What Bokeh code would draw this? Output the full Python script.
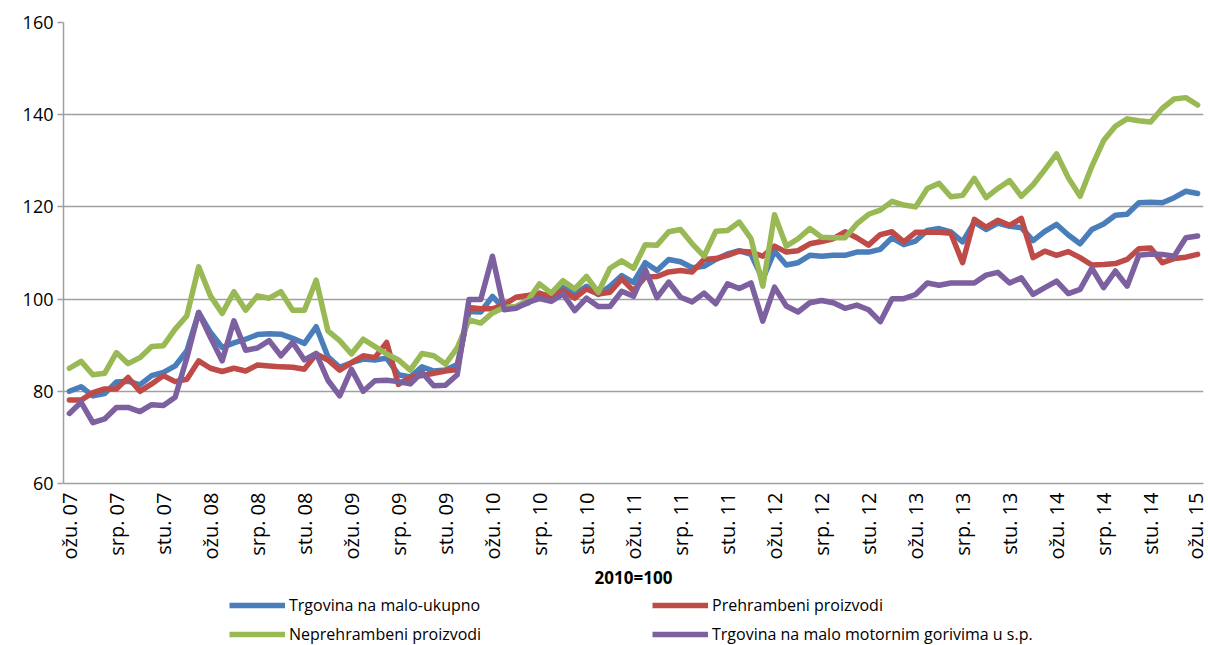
import math
from bokeh.plotting import figure
from bokeh.layouts import column
from bokeh.models import Range1d, FixedTicker, Legend, LegendItem
from bokeh.embed import file_html
from bokeh.resources import INLINE

# Monthly index, March 2007 .. March 2015 (97 months), 2010 = 100
ukupno = [80.0, 81.0, 79.0, 79.5, 82.0, 82.2, 81.4, 83.4, 84.1, 85.5, 88.8, 97.1,
          92.8, 89.5, 90.5, 91.3, 92.3, 92.5, 92.4, 91.5, 90.4, 94.0, 87.5, 85.2,
          86.2, 87.0, 86.8, 87.2, 83.6, 83.1, 85.3, 84.4, 84.6, 85.8, 97.3, 97.2,
          100.6, 97.9, 98.2, 99.1, 101.1, 100.6, 102.5, 101.0, 102.8, 101.0, 102.8, 105.1,
          103.6, 107.9, 106.2, 108.6, 108.1, 106.8, 107.1, 108.6, 109.8, 110.5, 109.7, 104.3,
          110.4, 107.4, 107.9, 109.5, 109.3, 109.5, 109.5, 110.2, 110.2, 110.8, 113.3, 111.8,
          112.6, 114.9, 115.3, 114.6, 112.4, 116.7, 115.1, 116.5, 115.8, 115.5, 112.7, 114.7,
          116.2, 113.9, 112.0, 115.1, 116.3, 118.2, 118.4, 120.9, 121.0, 120.9, 122.0, 123.4,
          122.9]
prehrambeni = [78.1, 78.1, 79.7, 80.5, 80.5, 83.0, 80.0, 81.6, 83.4, 82.1, 82.6, 86.6,
               85.0, 84.3, 85.0, 84.4, 85.7, 85.5, 85.3, 85.2, 84.8, 88.1, 86.8, 84.6,
               86.2, 87.7, 87.3, 90.6, 81.5, 83.0, 83.4, 83.9, 84.4, 84.7, 98.2, 97.9,
               97.9, 98.8, 100.4, 100.8, 101.3, 100.4, 101.8, 100.2, 102.2, 101.1, 101.5, 104.4,
               101.8, 104.8, 104.9, 105.9, 106.2, 105.9, 108.6, 108.8, 109.5, 110.4, 110.2, 109.3,
               111.5, 110.2, 110.5, 112.0, 112.5, 113.1, 114.6, 113.3, 111.7, 114.0, 114.6, 112.4,
               114.5, 114.5, 114.5, 114.3, 107.9, 117.3, 115.6, 117.1, 116.0, 117.5, 109.0, 110.4,
               109.5, 110.3, 109.0, 107.4, 107.5, 107.7, 108.6, 110.9, 111.1, 107.9, 108.8, 109.1,
               109.7]
neprehrambeni = [85.0, 86.5, 83.6, 83.9, 88.4, 86.0, 87.3, 89.7, 89.9, 93.5, 96.4, 107.0,
                 100.7, 96.9, 101.6, 97.6, 100.7, 100.2, 101.6, 97.6, 97.6, 104.1, 93.1, 91.0,
                 88.1, 91.3, 89.7, 88.1, 86.8, 84.6, 88.2, 87.7, 85.9, 89.4, 95.5, 94.8,
                 97.0, 98.2, 98.4, 99.7, 103.3, 101.3, 104.0, 102.2, 104.9, 101.5, 106.7, 108.3,
                 106.7, 111.8, 111.7, 114.6, 115.1, 112.0, 109.3, 114.7, 114.9, 116.7, 113.1, 102.8,
                 118.3, 111.5, 113.1, 115.3, 113.4, 113.3, 113.3, 116.3, 118.4, 119.3, 121.2, 120.4,
                 120.0, 124.0, 125.1, 122.2, 122.5, 126.2, 122.0, 124.0, 125.7, 122.3, 124.8, 128.1,
                 131.5, 126.3, 122.3, 128.8, 134.4, 137.5, 139.1, 138.7, 138.4, 141.4, 143.4, 143.7,
                 142.1]
gorivima = [75.2, 77.6, 73.2, 74.0, 76.5, 76.5, 75.6, 77.1, 76.9, 78.7, 87.3, 97.1,
            91.7, 86.6, 95.3, 88.9, 89.4, 91.0, 87.7, 90.6, 86.8, 88.2, 82.4, 79.0,
            84.8, 80.0, 82.3, 82.4, 82.1, 81.6, 84.1, 81.2, 81.3, 83.6, 99.9, 99.9,
            109.3, 97.7, 98.0, 99.3, 100.1, 99.5, 101.1, 97.5, 100.2, 98.4, 98.4, 101.7,
            100.6, 106.4, 100.3, 103.7, 100.4, 99.4, 101.3, 99.0, 103.3, 102.3, 103.5, 95.2,
            102.6, 98.5, 97.2, 99.2, 99.7, 99.2, 98.0, 98.7, 97.7, 95.1, 100.1, 100.1,
            101.0, 103.5, 103.0, 103.5, 103.5, 103.5, 105.2, 105.8, 103.5, 104.6, 101.0, 102.5,
            103.9, 101.2, 102.1, 106.7, 102.5, 106.1, 102.8, 109.5, 109.8, 109.7, 109.3, 113.3,
            113.7]

tick_labels = ["ožu. 07", "srp. 07", "stu. 07", "ožu. 08", "srp. 08", "stu. 08",
               "ožu. 09", "srp. 09", "stu. 09", "ožu. 10", "srp. 10", "stu. 10",
               "ožu. 11", "srp. 11", "stu. 11", "ožu. 12", "srp. 12", "stu. 12",
               "ožu. 13", "srp. 13", "stu. 13", "ožu. 14", "srp. 14", "stu. 14",
               "ožu. 15"]
series_names = ["Trgovina na malo-ukupno", "Prehrambeni proizvodi",
                "Neprehrambeni proizvodi", "Trgovina na malo motornim gorivima u s.p."]
colors = ["#4A7EBB", "#BE4B48", "#98B954", "#7D60A0"]

x = list(range(len(ukupno)))
tick_pos = [i * 4 for i in range(len(tick_labels))]

FONT = "Open Sans"
GRID = "#A0A0A0"
LW = 5.5

p = figure(frame_width=1140, frame_height=461, output_backend="svg",
           toolbar_location=None, x_range=Range1d(-0.5, len(x) - 0.5),
           y_range=Range1d(60, 160), min_border_left=63, min_border_top=22,
           min_border_right=5, min_border_bottom=108)
p.outline_line_color = None

series = [ukupno, prehrambeni, neprehrambeni, gorivima]
for data, c in zip(series, colors):
    p.line(x, data, line_color=c, line_width=LW, line_join="round", line_cap="round")

p.xgrid.grid_line_color = None
p.ygrid.grid_line_color = GRID
p.ygrid.grid_line_width = 1.5
p.yaxis.ticker = FixedTicker(ticks=[60, 80, 100, 120, 140, 160])
p.xaxis.ticker = FixedTicker(ticks=tick_pos)
p.xaxis.major_label_overrides = {t: l for t, l in zip(tick_pos, tick_labels)}
p.xaxis.major_label_orientation = math.pi / 2

for ax in (p.xaxis, p.yaxis):
    ax.axis_line_color = GRID
    ax.axis_line_width = 1.5
    ax.major_tick_line_color = GRID
    ax.major_tick_line_width = 1.5
    ax.minor_tick_line_color = None
    ax.major_label_text_font = FONT
    ax.major_label_text_color = "black"
p.yaxis.major_tick_out = 6
p.yaxis.major_tick_in = 0
p.yaxis.major_label_text_font_size = "18px"
p.yaxis.major_label_standoff = 4
p.xaxis.major_tick_out = 0
p.xaxis.major_tick_in = 0
p.xaxis.major_label_text_font_size = "20px"
p.xaxis.major_label_standoff = 9
p.xaxis.axis_label = "2010=100"
p.xaxis.axis_label_text_font = FONT
p.xaxis.axis_label_text_font_style = "bold"
p.xaxis.axis_label_text_font_size = "17px"
p.xaxis.axis_label_text_color = "black"
p.xaxis.axis_label_standoff = 4

# Legend strip below the chart (its own frame; legend renderers hold the series
# data but lie outside the strip's visible range, so only the legend shows)
leg = figure(width=1208, height=54, output_backend="svg", toolbar_location=None,
             x_range=Range1d(0, 1), y_range=Range1d(1000, 1001),
             min_border_left=0, min_border_right=0, min_border_top=0, min_border_bottom=0)
leg.axis.visible = False
leg.grid.visible = False
leg.outline_line_color = None
dummies = [leg.line(x, data, line_color=c, line_width=LW) for data, c in zip(series, colors)]

def make_legend(idx, yoff):
    return Legend(items=[LegendItem(label=series_names[i], renderers=[dummies[i]]) for i in idx],
                  orientation="horizontal", location=(166, yoff), spacing=9,
                  label_text_font=FONT, label_text_font_size="16px", label_text_color="black",
                  glyph_width=56, glyph_height=12, label_standoff=4, label_width=354,
                  padding=0, margin=0, border_line_color=None, background_fill_alpha=0,
                  label_height=20)

leg.add_layout(make_legend([0, 1], 30))
leg.add_layout(make_legend([2, 3], 1))

open("out.html", "w").write(file_html(column(p, leg, spacing=0), INLINE))
